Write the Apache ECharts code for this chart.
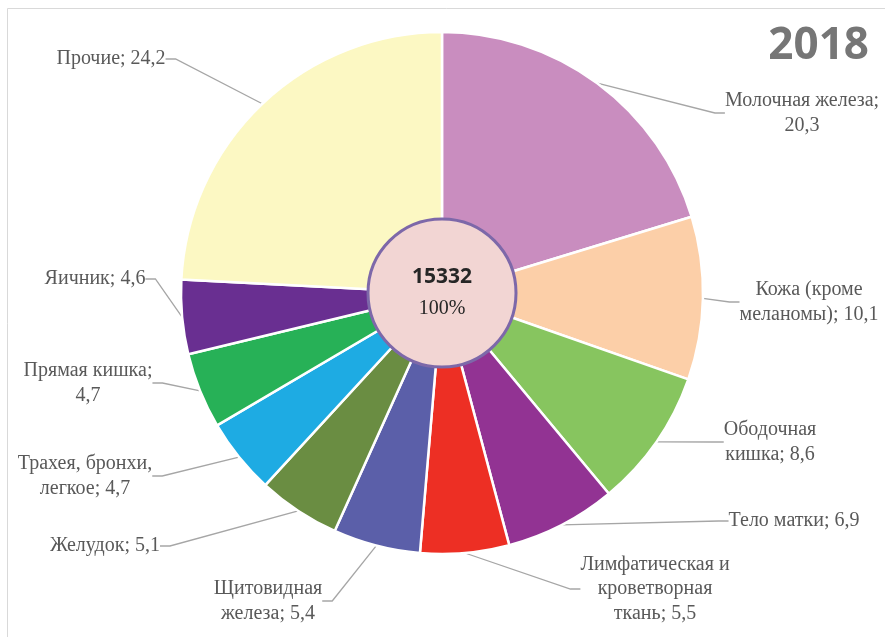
<!DOCTYPE html>
<html>
<head>
<meta charset="utf-8">
<script src="https://cdn.jsdelivr.net/npm/echarts@6/dist/echarts.min.js"></script>
<style>
  html, body { margin: 0; padding: 0; background: #ffffff; }
  #chart { width: 885px; height: 637px; }
</style>
</head>
<body>
<div id="chart"></div>
<script>
// Incidence structure, % of all cases
const yearLabel = '2018';
const totalCases = 15332;
const totalShare = '100%';

const categories = [
  'Молочная железа',
  'Кожа (кроме\nмеланомы)',
  'Ободочная\nкишка',
  'Тело матки',
  'Лимфатическая и\nкроветворная\nткань',
  'Щитовидная\nжелеза',
  'Желудок',
  'Трахея, бронхи,\nлегкое',
  'Прямая кишка',
  'Яичник',
  'Прочие'
];
const shares = [20.3, 10.1, 8.6, 6.9, 5.5, 5.4, 5.1, 4.7, 4.7, 4.6, 24.2];
// value goes onto its own line for these labels
const valueOnNewLine = [true, false, false, false, false, false, false, false, true, false, false];

const sliceColors = [
  '#c98dbf', '#fccfa8', '#87c55f', '#923393', '#ed2f24', '#5b5fa9',
  '#6a8d42', '#1eabe3', '#27b157', '#692f91', '#fcf8c3'
];

// label anchor spots: [centre x, middle y]
const labelSpots = [
  [802, 113], [809, 302], [770, 442], [794, 521], [655, 589], [268, 601],
  [105, 546], [85, 476], [88, 383], [95, 279], [111, 59]
];

const PIE_CENTER = [442, 293];
const serif = 'Liberation Serif';

const fmt = v => String(v).replace('.', ',');

const chart = echarts.init(document.getElementById('chart'), null, { renderer: 'canvas' });

chart.setOption({
  animation: false,
  backgroundColor: '#ffffff',
  title: {
    text: yearLabel,
    right: 16,
    top: 24,
    padding: 0,
    textStyle: {
      fontFamily: 'Open Sans',
      fontWeight: 'bold',
      fontSize: 44,
      color: '#767676'
    }
  },
  graphic: [{
    type: 'rect',
    silent: true,
    shape: { x: 7.5, y: 8.5, width: 900, height: 700 },
    style: { fill: 'none', stroke: '#d9d9d9', lineWidth: 1 }
  }],
  series: [
    {
      type: 'pie',
      center: PIE_CENTER,
      radius: [0, 261],
      startAngle: 90,
      clockwise: true,
      silent: true,
      avoidLabelOverlap: false,
      itemStyle: { borderColor: '#ffffff', borderWidth: 2.5 },
      label: {
        show: true,
        fontFamily: serif,
        fontSize: 20,
        lineHeight: 24.5,
        color: '#595959',
        formatter: p => p.name + (valueOnNewLine[p.dataIndex] ? ';\n' : '; ') + fmt(p.value)
      },
      labelLine: {
        show: true,
        length: 20,
        length2: 10,
        smooth: false,
        lineStyle: { color: '#a6a6a6', width: 1.3 }
      },
      labelLayout: params => {
        const s = labelSpots[params.dataIndex];
        return { x: s[0], y: s[1], align: 'center', verticalAlign: 'middle' };
      },
      data: categories.map((name, i) => ({
        name: name,
        value: shares[i],
        itemStyle: { color: sliceColors[i] }
      }))
    },
    {
      type: 'pie',
      center: PIE_CENTER,
      radius: [0, 74],
      silent: true,
      itemStyle: { color: '#f2d5d3', borderColor: '#7d68a9', borderWidth: 3 },
      label: {
        show: true,
        position: 'center',
        formatter: p => '{a|' + p.value + '}\n{b|' + totalShare + '}',
        rich: {
          a: {
            fontFamily: 'Open Sans',
            fontWeight: 'bold',
            fontSize: 21,
            color: '#262626',
            lineHeight: 31,
            padding: [0, 0, 0, 0]
          },
          b: {
            fontFamily: serif,
            fontSize: 20,
            color: '#262626',
            lineHeight: 31
          }
        }
      },
      labelLine: { show: false },
      data: [{ name: 'Всего', value: totalCases }]
    }
  ]
});
</script>
</body>
</html>
